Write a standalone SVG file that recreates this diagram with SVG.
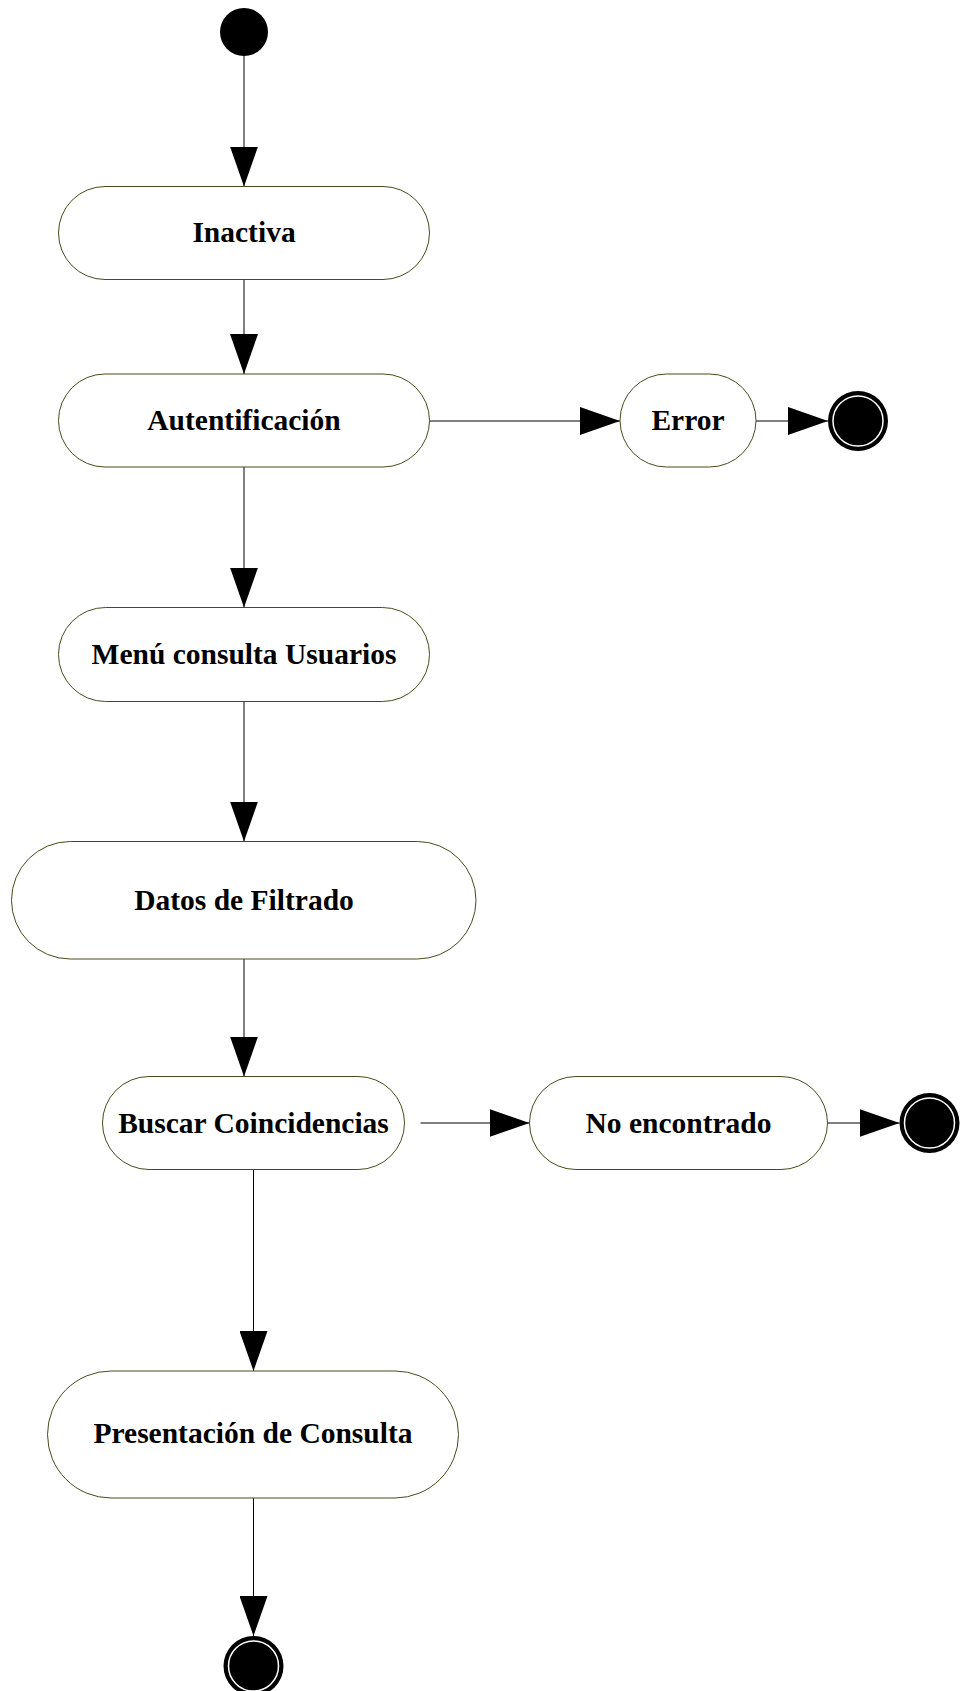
<svg xmlns="http://www.w3.org/2000/svg" width="960" height="1691" viewBox="0 0 960 1691">
  <style>
    .state { fill: #ffffff; stroke: #4a4a1c; stroke-width: 1; }
    .label { font-family: "Liberation Serif", "Times New Roman", serif; font-weight: bold; font-size: 29.5px; fill: #000000; text-anchor: middle; }
    .flow { stroke: #000000; stroke-width: 1; fill: none; marker-end: url(#arrow); }
    .final-outer { fill: #000000; }
    .final-inner { fill: #000000; stroke: #ffffff; stroke-width: 1.5; }
  </style>
  <defs>
    <marker id="arrow" markerUnits="userSpaceOnUse" markerWidth="40" markerHeight="28" viewBox="0 0 40 28" refX="40" refY="14" orient="auto">
      <path d="M0,0 L40,14 L0,28 z" fill="#000000"/>
    </marker>
  </defs>

  <rect width="960" height="1691" fill="#ffffff"/>

  <!-- transitions -->
  <g id="connectors">
    <line class="flow" x1="244" y1="56" x2="244" y2="186.5"/>
    <line class="flow" x1="244" y1="279.5" x2="244" y2="374"/>
    <line class="flow" x1="244" y1="467" x2="244" y2="607.5"/>
    <line class="flow" x1="244" y1="701.5" x2="244" y2="841.5"/>
    <line class="flow" x1="244" y1="959" x2="244" y2="1076.5"/>
    <line class="flow" x1="253.5" y1="1169.5" x2="253.5" y2="1371"/>
    <line class="flow" x1="253.5" y1="1498" x2="253.5" y2="1636"/>
    <line class="flow" x1="429.5" y1="421" x2="620" y2="421"/>
    <line class="flow" x1="756" y1="421" x2="828" y2="421"/>
    <line class="flow" x1="420.5" y1="1123" x2="529.5" y2="1123"/>
    <line class="flow" x1="827.5" y1="1123" x2="899.5" y2="1123"/>
  </g>

  <!-- initial state -->
  <g id="start">
    <circle cx="244" cy="32" r="24" fill="#000000"/>
  </g>

  <g id="inactiva">
    <rect class="state" x="58.5" y="186.5" width="371" height="93" rx="46.5" ry="46.5"/>
    <text class="label" x="244" y="242">Inactiva</text>
  </g>

  <g id="autentificacion">
    <rect class="state" x="58.5" y="374" width="371" height="93" rx="46.5" ry="46.5"/>
    <text class="label" x="244" y="430">Autentificación</text>
  </g>

  <g id="error">
    <rect class="state" x="620" y="374" width="136" height="93" rx="46.5" ry="46.5"/>
    <text class="label" x="688" y="430">Error</text>
  </g>

  <g id="end-error">
    <circle class="final-outer" cx="858" cy="421" r="30"/>
    <circle class="final-inner" cx="858" cy="421" r="25"/>
  </g>

  <g id="menu-consulta">
    <rect class="state" x="58.5" y="607.5" width="371" height="94" rx="47" ry="47"/>
    <text class="label" x="244" y="664">Menú consulta Usuarios</text>
  </g>

  <g id="datos-filtrado">
    <rect class="state" x="11.5" y="841.5" width="464.5" height="117.5" rx="58.75" ry="58.75"/>
    <text class="label" x="244" y="910">Datos de Filtrado</text>
  </g>

  <g id="buscar">
    <rect class="state" x="102.5" y="1076.5" width="302" height="93" rx="46.5" ry="46.5"/>
    <text class="label" x="253.5" y="1133">Buscar Coincidencias</text>
  </g>

  <g id="no-encontrado">
    <rect class="state" x="529.5" y="1076.5" width="298" height="93" rx="46.5" ry="46.5"/>
    <text class="label" x="678.5" y="1133">No encontrado</text>
  </g>

  <g id="end-no-encontrado">
    <circle class="final-outer" cx="929.5" cy="1123" r="30"/>
    <circle class="final-inner" cx="929.5" cy="1123" r="25"/>
  </g>

  <g id="presentacion">
    <rect class="state" x="47.5" y="1371" width="411" height="127" rx="63.5" ry="63.5"/>
    <text class="label" x="253" y="1443">Presentación de Consulta</text>
  </g>

  <g id="end-presentacion">
    <circle class="final-outer" cx="253.5" cy="1666" r="30"/>
    <circle class="final-inner" cx="253.5" cy="1666" r="25"/>
  </g>
</svg>
